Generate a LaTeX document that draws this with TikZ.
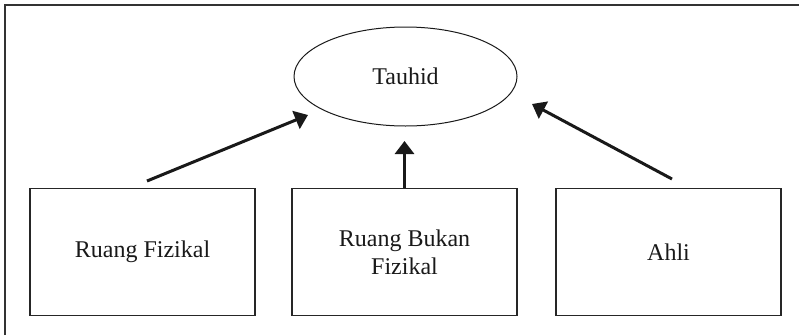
\documentclass[tikz,border=0pt]{standalone}
\usepackage{fontspec}
\setmainfont{Liberation Serif}
\usetikzlibrary{arrows.meta,shapes.geometric}
\begin{document}
\begin{tikzpicture}[x=1pt,y=-1pt,
  box/.style={draw=black!85,line width=1.3pt,minimum width=225pt,minimum height=127pt,inner sep=0pt,align=center,text=black!90,font=\fontsize{24}{28}\selectfont},
  oval/.style={ellipse,draw=black!90,line width=1pt,minimum width=223pt,minimum height=99pt,inner sep=0pt,text=black!90,font=\fontsize{24}{28}\selectfont},
  arr/.style={line width=3pt,draw=black!90,-{Triangle[length=13pt,width=19pt]}},
  frame/.style={line width=2pt,draw=black!80}]
\useasboundingbox (0,0) rectangle (799,335);
\draw[frame] (5,335) -- (5,5) -- (800,5);
\node[oval] (tauhid) at (405.5,76.5) {Tauhid};
\node[box] (b1) at (142.5,252) {Ruang Fizikal};
\node[box] (b2) at (404.5,252) {Ruang Bukan\\Fizikal};
\node[box] (b3) at (668.5,252) {Ahli};
\coordinate (l1) at (147,181);
\coordinate (l2) at (308,115);
\coordinate (m2) at (404.5,141);
\coordinate (r1) at (672,179);
\coordinate (r2) at (532,104);
\draw[arr] (l1) -- (l2);
\draw[arr] (b2.north) -- (m2);
\draw[arr] (r1) -- (r2);
\end{tikzpicture}
\end{document}
